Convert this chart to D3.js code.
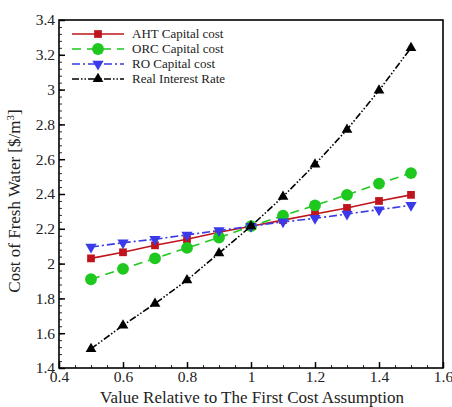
<!DOCTYPE html>
<html>
<head>
<meta charset="utf-8">
<script src="https://cdn.jsdelivr.net/npm/d3@7"></script>
<style>
  body { margin: 0; background: #fff; }
  svg { display: block; font-family: "Liberation Serif", "Times New Roman", serif; }
</style>
</head>
<body>
<div id="chart"></div>
<script>
// data
const xValues = [0.5, 0.6, 0.7, 0.8, 0.9, 1.0, 1.1, 1.2, 1.3, 1.4, 1.5];
const ahtCost = [2.03, 2.065, 2.105, 2.14, 2.18, 2.215, 2.25, 2.285, 2.32, 2.36, 2.395];
const orcCost = [1.91, 1.97, 2.03, 2.09, 2.15, 2.215, 2.275, 2.335, 2.395, 2.46, 2.52];
const roCost = [2.095, 2.12, 2.14, 2.165, 2.19, 2.215, 2.24, 2.26, 2.285, 2.31, 2.335];
const interestRate = [1.51, 1.645, 1.77, 1.905, 2.06, 2.215, 2.385, 2.57, 2.77, 2.995, 3.24];
const seriesNames = ["AHT Capital cost", "ORC Capital cost", "RO Capital cost", "Real Interest Rate"];
const xTicks = [0.4, 0.6, 0.8, 1, 1.2, 1.4, 1.6];
const yTicks = [1.4, 1.6, 1.8, 2, 2.2, 2.4, 2.6, 2.8, 3, 3.2, 3.4];

const width = 452, height = 407;
const margin = { top: 20, right: 9, bottom: 39, left: 59 };

const svg = d3.select("#chart").append("svg")
  .attr("width", width).attr("height", height);

const x = d3.scaleLinear().domain([0.4, 1.6]).range([margin.left, width - margin.right]);
const y = d3.scaleLinear().domain([1.4, 3.4]).range([height - margin.bottom, margin.top]);

const series = [
  { name: seriesNames[0], values: ahtCost, color: "#c0141c", dash: null, symbol: d3.symbolSquare, size: 60, rot: 0 },
  { name: seriesNames[1], values: orcCost, color: "#1ec81e", dash: "9,6", symbol: d3.symbolCircle, size: 110, rot: 0 },
  { name: seriesNames[2], values: roCost, color: "#3a3ae8", dash: "8,3,2,3", symbol: d3.symbolTriangle, size: 55, rot: 180 },
  { name: seriesNames[3], values: interestRate, color: "#000", dash: "7,2,1.5,2,1.5,2", symbol: d3.symbolTriangle, size: 50, rot: 0 }
];

// minor ticks
const xMinor = d3.range(0.4, 1.6001, 0.05);
const yMinor = d3.range(1.4, 3.4001, 0.04);

// axes with inward ticks
const xAxisMinor = d3.axisBottom(x).tickValues(xMinor).tickSize(-3).tickFormat("");
const yAxisMinor = d3.axisLeft(y).tickValues(yMinor).tickSize(-3).tickFormat("");

svg.append("g").attr("transform", `translate(0,${height - margin.bottom})`).call(xAxisMinor)
  .call(g => g.select(".domain").remove())
  .selectAll("line").attr("stroke", "#333");
svg.append("g").attr("transform", `translate(${margin.left},0)`).call(yAxisMinor)
  .call(g => g.select(".domain").remove())
  .selectAll("line").attr("stroke", "#333");

const xAxis = d3.axisBottom(x).tickValues(xTicks).tickSize(-6).tickPadding(3)
  .tickFormat(d => d3.format("")(+d.toFixed(1)));
const yAxis = d3.axisLeft(y).tickValues(yTicks).tickSize(-6).tickPadding(4)
  .tickFormat(d => d3.format("")(+d.toFixed(1)));

svg.append("g").attr("transform", `translate(0,${height - margin.bottom})`).call(xAxis)
  .call(g => g.select(".domain").remove())
  .call(g => g.selectAll("line").attr("stroke", "#000").attr("stroke-width", 1.5))
  .selectAll("text").attr("font-size", 15.5).attr("font-family", "Liberation Serif").attr("fill", "#222");
svg.append("g").attr("transform", `translate(${margin.left},0)`).call(yAxis)
  .call(g => g.select(".domain").remove())
  .call(g => g.selectAll("line").attr("stroke", "#000").attr("stroke-width", 1.5))
  .selectAll("text").attr("font-size", 15.5).attr("font-family", "Liberation Serif").attr("fill", "#222");

// frame
svg.append("rect")
  .attr("x", margin.left).attr("y", margin.top)
  .attr("width", width - margin.left - margin.right)
  .attr("height", height - margin.top - margin.bottom)
  .attr("fill", "none").attr("stroke", "#000").attr("stroke-width", 1.6);

// lines and markers
const line = d3.line().x((d, i) => x(xValues[i])).y(d => y(d));

series.forEach(s => {
  svg.append("path")
    .datum(s.values)
    .attr("d", line)
    .attr("fill", "none")
    .attr("stroke", s.color)
    .attr("stroke-width", 1.6)
    .attr("stroke-dasharray", s.dash);

  svg.append("g").selectAll("path")
    .data(s.values)
    .join("path")
    .attr("d", d3.symbol().type(s.symbol).size(s.size))
    .attr("transform", (d, i) => `translate(${x(xValues[i])},${y(d)}) rotate(${s.rot})`)
    .attr("fill", s.color);
});

// legend
const legend = svg.append("g").attr("id", "legend");
series.forEach((s, i) => {
  const ly = 34 + i * 15;
  legend.append("line")
    .attr("x1", 72).attr("x2", 124).attr("y1", ly).attr("y2", ly)
    .attr("stroke", s.color).attr("stroke-width", 1.6)
    .attr("stroke-dasharray", s.dash);
  legend.append("path")
    .attr("d", d3.symbol().type(s.symbol).size(s.size))
    .attr("transform", `translate(98,${ly}) rotate(${s.rot})`)
    .attr("fill", s.color);
  legend.append("text")
    .attr("x", 132).attr("y", ly + 4)
    .attr("font-size", 13)
    .attr("fill", "#222")
    .text(s.name);
});

// axis titles
svg.append("text")
  .attr("x", (margin.left + width - margin.right) / 2 + 1)
  .attr("y", 403)
  .attr("text-anchor", "middle")
  .attr("font-size", 17)
  .attr("fill", "#222")
  .text("Value Relative to The First Cost Assumption");

svg.append("text")
  .attr("transform", `translate(20,201) rotate(-90)`)
  .attr("text-anchor", "middle")
  .attr("font-size", 17)
  .attr("fill", "#222")
  .html("Cost of Fresh Water [$/m<tspan baseline-shift='super' font-size='11'>3</tspan>]");
</script>
</body>
</html>
